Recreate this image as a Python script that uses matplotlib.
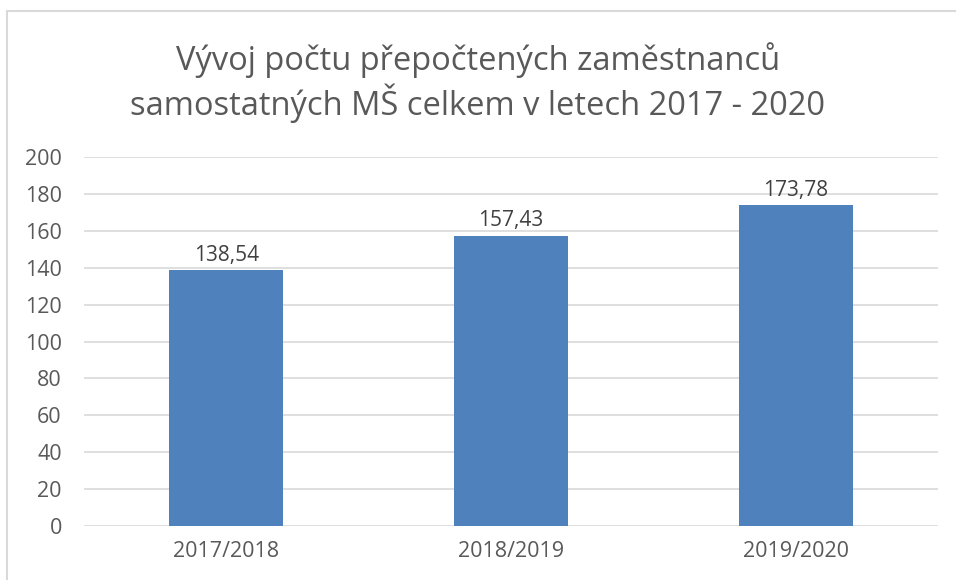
import matplotlib.pyplot as plt
from matplotlib.patches import Rectangle

# Data
years = ['2017/2018', '2018/2019', '2019/2020']
values = [138.54, 157.43, 173.78]
yticks = [0, 20, 40, 60, 80, 100, 120, 140, 160, 180, 200]

plt.rcParams['font.family'] = ['Open Sans', 'DejaVu Sans']

fig = plt.figure(figsize=(9.56, 5.8), dpi=100)
ax = fig.add_axes([84/956, 1 - 526/580, (938-84)/956, (526-157)/580])

x = range(len(years))
ax.bar(x, values, width=0.4, color='#4f81bd', zorder=3)

for i, v in enumerate(values):
    ax.annotate(f'{v:.2f}'.replace('.', ','), (i, v), xytext=(0, 3),
                textcoords='offset points', ha='center', va='bottom',
                fontsize=15, color='#404040')

ax.set_xlim(-0.5, 2.5)
ax.set_ylim(0, 200)
ax.set_yticks(yticks)
ax.set_xticks(list(x))
ax.set_xticklabels(years)
ax.grid(axis='y', color='#d9d9d9', linewidth=1.2, zorder=0)
for s in ax.spines.values():
    s.set_visible(False)
ax.tick_params(length=0, labelsize=15.5, colors='#595959')
ax.tick_params(axis='x', pad=11)
ax.tick_params(axis='y', pad=16)

fig.text(0.5, 1 - 60/580, 'Vývoj počtu přepočtených zaměstnanců',
         ha='center', va='center', fontsize=23.5, color='#595959')
fig.text(0.5, 1 - 103/580, 'samostatných MŠ celkem v letech 2017 - 2020',
         ha='center', va='center', fontsize=23.5, color='#595959')

# chart border
fig.patches.append(Rectangle((7/956, -0.1), 1.2, 1 - 11/580 + 0.1,
                             transform=fig.transFigure, fill=False,
                             edgecolor='#d9d9d9', linewidth=1.5))

fig.savefig('out.png', dpi=100)
